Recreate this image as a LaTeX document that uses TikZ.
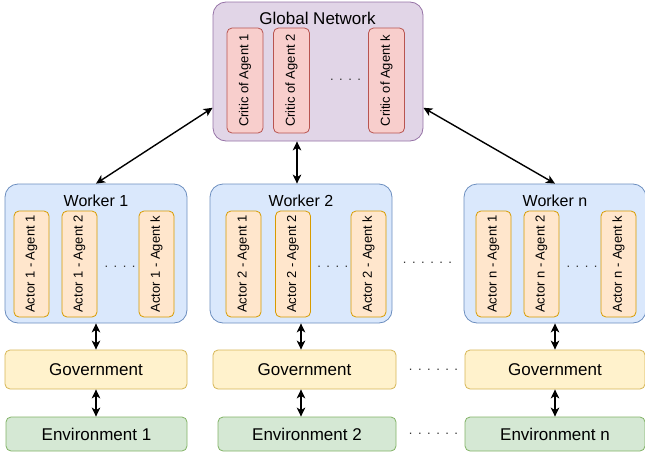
\documentclass[tikz,border=0pt]{standalone}
\usepackage{fontspec}
\setmainfont{Liberation Sans}
\usetikzlibrary{arrows.meta}
\definecolor{netfill}{HTML}{E1D5E7}\definecolor{netline}{HTML}{9673A6}
\definecolor{criticfill}{HTML}{F8CECC}\definecolor{criticline}{HTML}{B85450}
\definecolor{workerfill}{HTML}{DAE8FC}\definecolor{workerline}{HTML}{6C8EBF}
\definecolor{actorfill}{HTML}{FFE6CC}\definecolor{actorline}{HTML}{D79B00}
\definecolor{govfill}{HTML}{FFF2CC}\definecolor{govline}{HTML}{D6B656}
\definecolor{envfill}{HTML}{D5E8D4}\definecolor{envline}{HTML}{82B366}
\newcommand\dotrow[1]{.\foreach \i in {2,...,#1}{\hspace{5.5pt}.}}
\begin{document}
\begin{tikzpicture}[x=1pt,y=-1pt,
    box/.style={draw,line width=0.8pt,rounded corners=5pt,inner sep=0pt},
    net/.style={box,fill=netfill,draw=netline,rounded corners=13pt,minimum width=210pt,minimum height=139pt},
    critic/.style={box,fill=criticfill,draw=criticline,rotate=90,minimum width=105pt,minimum height=36pt,font=\fontsize{13}{15}\selectfont},
    worker/.style={box,fill=workerfill,draw=workerline,rounded corners=13pt,minimum width=182pt,minimum height=139pt},
    actor/.style={box,fill=actorfill,draw=actorline,rotate=90,minimum width=106pt,minimum height=35pt,font=\fontsize{13}{15}\selectfont},
    gov/.style={box,fill=govfill,draw=govline,minimum height=39pt,font=\fontsize{17}{20}\selectfont},
    env/.style={box,fill=envfill,draw=envline,minimum height=34pt,font=\fontsize{17}{20}\selectfont},
    title/.style={inner sep=0pt,font=\fontsize{17}{20}\selectfont},
    gap/.style={inner sep=0pt,text=black!80,font=\fontsize{13}{15}\selectfont},
    link/.style={{Stealth[length=9pt,width=8.5pt,inset=2.5pt]}-{Stealth[length=9pt,width=8.5pt,inset=2.5pt]},line width=1.4pt}]
    \useasboundingbox (0,0) rectangle (645,455);

    % global network with the critics
    \node[net] (net) at (318,71.5) {};
    \node[title] (nett) at (317.5,18) {Global Network};
    \node[critic] (c1) at (245,80.5) {Critic of Agent 1};
    \node[critic] (c2) at (291.5,80.5) {Critic of Agent 2};
    \node[critic] (ck) at (386.5,80.5) {Critic of Agent k};
    \node[gap] (cd) at (345.5,80) {\dotrow{4}};

    % one column per worker
    \foreach \c/\wx/\ax/\bx/\kx/\gx/\gw/\ex/\ew in {1/96/31.5/79.5/156.5/96/182/96.5/181,
        2/301/243.5/293/368.5/304.5/183/307/178, n/555/493.5/541.5/618.5/555/180/555/180} {
        \node[worker] (w\c) at (\wx,253.5) {};
        \node[title,font=\fontsize{16}{19}\selectfont] (wt\c) at (\wx,201) {Worker \c};
        \node[actor] (a\c1) at (\ax,264) {Actor \c\ - Agent 1};
        \node[actor] (a\c2) at (\bx,264) {Actor \c\ - Agent 2};
        \node[actor] (a\c k) at (\kx,264) {Actor \c\ - Agent k};
        \node[gap] (wd\c) at ({(\bx+\kx)/2+2},267) {\dotrow{4}};
        \node[gov,minimum width=\gw pt] (g\c) at (\gx,369.5) {Government};
        \node[env,minimum width=\ew pt] (e\c) at (\ex,434) {Environment \c};
        \draw[link] (w\c.south) -- (w\c.south |- g\c.north);
        \draw[link] (g\c.south -| w\c.south) -- (e\c.north -| w\c.south);
    }

    % dots between columns 2 and n
    \node[gap] (rw) at (427.5,263) {\dotrow{6}};
    \node[gap] (rg) at (433.5,370) {\dotrow{6}};
    \node[gap] (re) at (433.5,434) {\dotrow{6}};

    % global network <-> workers
    \draw[link] (net.199) -- (w1.north);
    \draw[link] (net.south -| 297,0) -- (w2.north -| 297,0);
    \draw[link] (net.341) -- (wn.north);
\end{tikzpicture}
\end{document}
